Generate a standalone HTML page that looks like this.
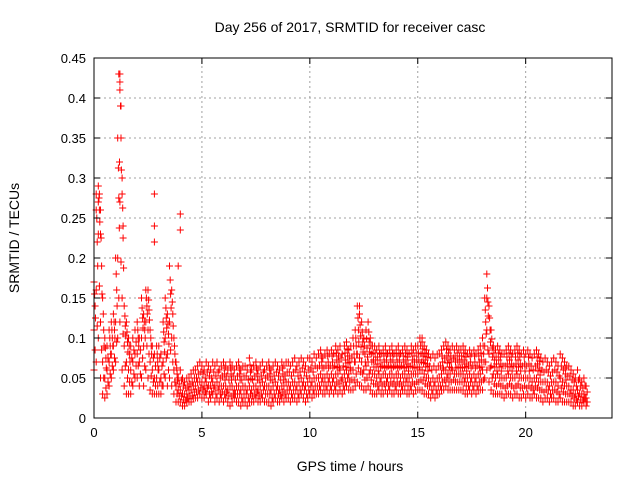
<!DOCTYPE html>
<html><head><meta charset="utf-8"><style>
body{margin:0;background:#fff}
svg{display:block;font-family:"Liberation Sans",sans-serif}
</style></head><body>
<svg id="chart" width="640" height="480" viewBox="0 0 640 480">
<rect width="640" height="480" fill="#fff"/>
<text x="350" y="32" font-size="14" text-anchor="middle">Day 256 of 2017, SRMTID for receiver casc</text>
<text x="350" y="471" font-size="14" text-anchor="middle">GPS time / hours</text>
<text transform="translate(19,238) rotate(-90)" font-size="14" text-anchor="middle">SRMTID / TECUs</text>
<g id="grid"></g>
<g id="pts"></g>
<rect x="94" y="58" width="518" height="360" fill="none" stroke="#000" stroke-width="1"/>
<g id="ticks"></g>
</svg>
<script>
const xTicks=[0,5,10,15,20];
const yTicks=[0,0.05,0.1,0.15,0.2,0.25,0.3,0.35,0.4,0.45];
const yTickLabels=["0","0.05","0.1","0.15","0.2","0.25","0.3","0.35","0.4","0.45"];
const hi=[.17,.28,.29,.26,.15,.10,.09,.11,.12,.13,
.20,.35,.43,.30,.14,.12,.10,.09,.10,.11,
.12,.10,.15,.13,.16,.16,.11,.09,.08,.09,
.09,.08,.12,.15,.13,.19,.16,.10,.07,.05,
.06,.05,.045,.05,.05,.055,.06,.06,.065,.07,
.065,.06,.07,.065,.06,.07,.065,.07,.06,.065,
.07,.065,.06,.07,.065,.06,.065,.07,.06,.065,
.065,.06,.075,.06,.065,.07,.06,.065,.07,.06,
.065,.07,.06,.065,.07,.065,.06,.07,.065,.07,
.07,.065,.07,.075,.065,.07,.075,.07,.065,.075,
.075,.07,.08,.075,.08,.085,.075,.08,.085,.08,
.085,.08,.09,.085,.09,.08,.09,.095,.085,.09,
.10,.11,.14,.13,.12,.10,.11,.12,.10,.09,
.09,.085,.09,.08,.085,.09,.08,.085,.09,.08,
.085,.09,.08,.085,.09,.085,.08,.09,.085,.09,
.09,.10,.095,.09,.085,.08,.075,.08,.075,.08,
.08,.085,.09,.095,.09,.085,.09,.085,.09,.085,
.085,.09,.085,.08,.085,.08,.085,.08,.085,.09,
.10,.15,.18,.14,.11,.09,.085,.09,.085,.08,
.08,.085,.09,.085,.08,.085,.09,.085,.08,.085,
.08,.085,.08,.075,.08,.085,.08,.075,.07,.075,
.07,.065,.07,.075,.07,.065,.08,.075,.07,.065,
.065,.06,.055,.05,.06,.05,.045,.05,.04];
const mid=[.11,.16,.23,.12,.07,.05,.06,.07,.08,.09,
.12,.20,.27,.15,.09,.07,.06,.06,.07,.08,
.08,.07,.10,.09,.12,.11,.07,.06,.05,.05,
.06,.05,.07,.10,.08,.12,.10,.06,.04,.035,
.035,.03,.03,.03,.035,.035,.04,.04,.045,.045,
.045,.04,.045,.04,.04,.045,.04,.045,.04,.04,
.04,.04,.035,.04,.04,.035,.04,.04,.035,.04,
.04,.035,.04,.035,.04,.04,.035,.04,.045,.04,
.04,.04,.035,.04,.045,.04,.035,.04,.04,.045,
.045,.04,.045,.045,.04,.045,.05,.045,.04,.045,
.05,.045,.05,.05,.05,.055,.05,.05,.055,.05,
.055,.05,.055,.055,.06,.05,.055,.06,.055,.06,
.06,.07,.08,.075,.07,.06,.065,.07,.06,.055,
.055,.05,.055,.05,.055,.055,.05,.055,.055,.05,
.055,.055,.05,.055,.055,.05,.05,.055,.055,.055,
.055,.06,.06,.055,.05,.05,.045,.05,.045,.05,
.05,.055,.06,.06,.055,.055,.06,.055,.055,.055,
.055,.055,.05,.05,.055,.05,.055,.05,.055,.055,
.06,.09,.11,.08,.065,.055,.05,.055,.05,.05,
.05,.05,.055,.05,.05,.05,.055,.05,.05,.05,
.05,.05,.05,.045,.05,.05,.045,.045,.045,.045,
.045,.04,.045,.045,.045,.04,.05,.045,.04,.04,
.04,.035,.035,.03,.035,.03,.03,.03,.025];
const lo=[.06,.07,.10,.05,.03,.025,.03,.04,.05,.06,
.07,.10,.12,.06,.04,.03,.03,.03,.04,.05,
.05,.04,.05,.04,.06,.05,.035,.03,.03,.03,
.03,.03,.04,.05,.04,.05,.04,.03,.02,.02,
.02,.015,.015,.02,.02,.02,.025,.025,.025,.03,
.025,.025,.03,.02,.025,.03,.02,.025,.02,.025,
.02,.025,.02,.015,.02,.025,.02,.02,.015,.02,
.02,.015,.02,.02,.02,.025,.02,.02,.025,.02,
.02,.02,.015,.02,.025,.02,.02,.025,.02,.025,
.025,.02,.025,.025,.02,.025,.03,.025,.02,.025,
.03,.025,.03,.03,.03,.035,.03,.03,.035,.03,
.035,.03,.035,.03,.035,.03,.035,.04,.035,.035,
.035,.04,.045,.04,.04,.035,.035,.04,.035,.03,
.03,.03,.035,.03,.03,.035,.03,.035,.03,.03,
.035,.03,.03,.035,.035,.03,.03,.035,.03,.035,
.035,.035,.035,.03,.03,.03,.025,.03,.025,.03,
.03,.035,.035,.04,.035,.035,.035,.035,.035,.035,
.035,.035,.03,.03,.035,.03,.035,.03,.035,.035,
.035,.05,.06,.045,.035,.03,.03,.03,.03,.03,
.025,.03,.03,.03,.025,.03,.03,.025,.025,.03,
.025,.03,.025,.025,.03,.025,.025,.025,.02,.025,
.025,.02,.025,.025,.02,.02,.025,.02,.02,.02,
.02,.02,.015,.015,.02,.015,.015,.02,.015];
const spikeT=[1.15,1.2,1.2,1.25,1.1,1.18,1.3,1.35,2.8,2.8,2.8,4.0,4.0,3.9,0.1,0.2,0.25,0.3,18.2,18.2,12.3,15.2];
const spikeV=[.43,.42,.41,.39,.35,.32,.28,.24,.28,.24,.22,.255,.235,.19,.26,.27,.28,.23,.18,.15,.14,.10];
const X0=94,X1=612,Y0=418,Y1=58;
const sx=t=>X0+(X1-X0)*t/24;
const sy=v=>Y0-(Y0-Y1)*v/0.45;
const NS="http://www.w3.org/2000/svg";
function mk(tag,attrs,parent){const e=document.createElementNS(NS,tag);for(const k in attrs)e.setAttribute(k,attrs[k]);parent.appendChild(e);return e;}
const grid=document.getElementById('grid'),ticks=document.getElementById('ticks'),pts=document.getElementById('pts');
xTicks.forEach(t=>{const x=sx(t);
 if(t>0){const g=mk('line',{x1:x,x2:x,y1:Y0,y2:Y1,stroke:'#a0a0a0','stroke-dasharray':'2,3'},grid);
 
 }
 mk('line',{x1:x,x2:x,y1:Y0,y2:Y0-6,stroke:'#000'},ticks);mk('line',{x1:x,x2:x,y1:Y1,y2:Y1+6,stroke:'#000'},ticks);
 const l=mk('text',{x:x,y:Y0+19,'font-size':13,'text-anchor':'middle'},ticks);l.textContent=String(t);
 
 });
yTicks.forEach((v,i)=>{const y=sy(v);
 if(i>0&&i<yTicks.length-1){const g=mk('line',{x1:X0,x2:X1,y1:y,y2:y,stroke:'#a0a0a0','stroke-dasharray':'2,3'},grid);
 
 }
 mk('line',{x1:X0,x2:X0+6,y1:y,y2:y,stroke:'#000'},ticks);mk('line',{x1:X1,x2:X1-6,y1:y,y2:y,stroke:'#000'},ticks);
 const l=mk('text',{x:X0-8,y:y+5,'font-size':13,'text-anchor':'end'},ticks);l.textContent=yTickLabels[i];
 
 });
let d='';
function cross(t,v){const x=sx(t),y=sy(v);d+=`M${(x-3.5).toFixed(1)} ${y.toFixed(1)}h7M${x.toFixed(1)} ${(y-3.5).toFixed(1)}v7`;}
hi.forEach((h,i)=>{const t=i*0.1;
 cross(t,lo[i]);cross(t,mid[i]);cross(t,h);
 cross(t+0.05,(lo[i]+mid[i])/2);cross(t+0.05,(mid[i]+h)/2);
 if(h-mid[i]>0.03){cross(t+0.03,(mid[i]+3*h)/4);cross(t+0.07,(3*mid[i]+h)/4);}});
spikeT.forEach((t,i)=>cross(t,spikeV[i]));
const p=mk('path',{d:d,stroke:'#ff0000','stroke-width':1,fill:'none'},pts);


</script>
</body></html>
